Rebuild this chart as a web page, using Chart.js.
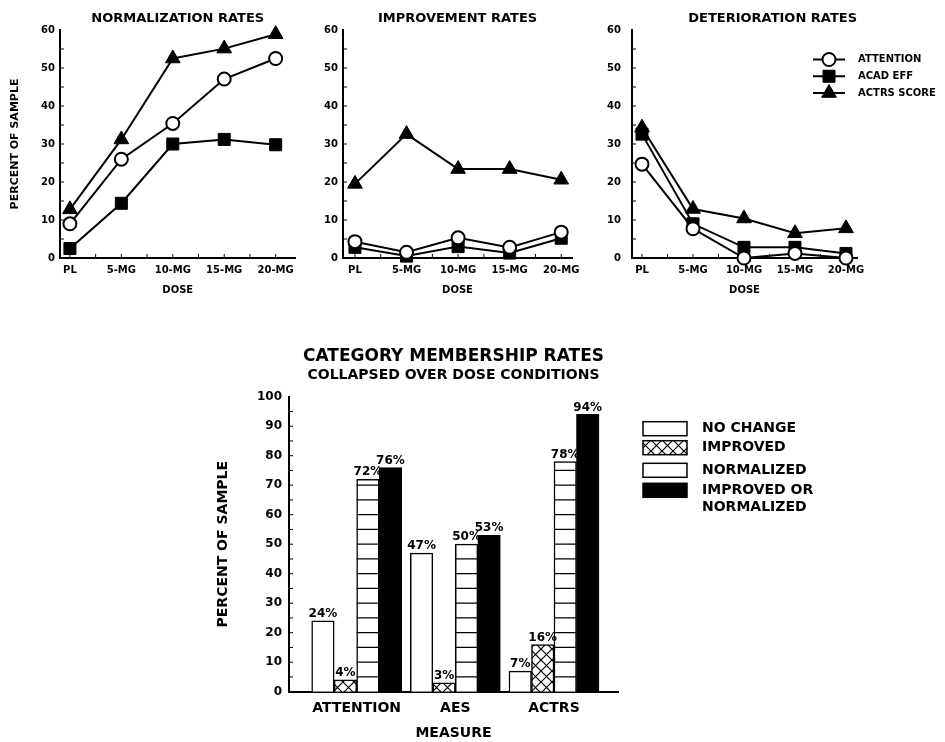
<!DOCTYPE html>
<html>
<head>
<meta charset="utf-8">
<script src="https://cdn.jsdelivr.net/npm/chart.js@4.4.0/dist/chart.umd.min.js"></script>
<style>
  body { margin: 0; background: #fff; width: 945px; height: 742px; position: relative; overflow: hidden; }
  canvas { position: absolute; }
</style>
</head>
<body>
<canvas id="normChart" width="305" height="305" style="left:0;top:0"></canvas>
<canvas id="impChart" width="276" height="305" style="left:310px;top:0"></canvas>
<canvas id="detChart" width="345" height="305" style="left:600px;top:0"></canvas>
<canvas id="catChart" width="670" height="412" style="left:200px;top:330px"></canvas>
<script>
// dose panels
const doses = ['PL', '5-MG', '10-MG', '15-MG', '20-MG'];
const seriesNames = ['ATTENTION', 'ACAD EFF', 'ACTRS SCORE'];

const normAttention = [9, 26, 35.4, 47.1, 52.5];
const normAcadEff = [2.5, 14.4, 30, 31.2, 29.8];
const normActrs = [12.8, 31.2, 52.5, 55.1, 58.9];

const impAttention = [4.3, 1.5, 5.3, 2.8, 6.8];
const impAcadEff = [2.8, 0.5, 3, 1.3, 5.2];
const impActrs = [19.5, 32.6, 23.4, 23.4, 20.6];

const detAttention = [24.7, 7.7, 0, 1.2, 0];
const detAcadEff = [32.6, 9, 2.8, 2.8, 1.2];
const detActrs = [34.3, 12.9, 10.4, 6.5, 7.8];

// category membership
const measures = ['ATTENTION', 'AES', 'ACTRS'];
const categoryNames = ['NO CHANGE', 'IMPROVED', 'NORMALIZED', ['IMPROVED OR', 'NORMALIZED']];
const noChange = [24, 47, 7];
const improved = [4, 3, 16];
const normalized = [72, 50, 78];
const improvedOrNormalized = [76, 53, 94];

Chart.defaults.font.family = "'DejaVu Sans', sans-serif";
Chart.defaults.font.weight = 'bold';
Chart.defaults.color = '#000';
Chart.defaults.animation = false;
Chart.defaults.plugins.legend.display = false;
Chart.defaults.plugins.tooltip.enabled = false;

const markerStyles = [
  { pointStyle: 'circle', pointRadius: 6.5, pointBackgroundColor: '#fff', pointBorderWidth: 2 },
  { pointStyle: 'rect', pointRadius: 8.5, pointBackgroundColor: '#000', pointBorderWidth: 1 },
  { pointStyle: 'triangle', pointRadius: 8.5, pointBackgroundColor: '#000', pointBorderWidth: 1 }
];

function steps(from, to, step) {
  const out = [];
  for (let v = from; v <= to + 1e-9; v += step) out.push(v);
  return out;
}

// small inward tick marks along both axes (under the data)
const innerTicks = {
  id: 'innerTicks',
  beforeDatasetsDraw(chart, args, opts) {
    const { ctx, scales: { x, y } } = chart;
    ctx.save();
    ctx.strokeStyle = '#000';
    ctx.lineWidth = 1;
    ctx.beginPath();
    (opts.yTicks || []).forEach(v => {
      const py = y.getPixelForValue(v);
      ctx.moveTo(x.left, py);
      ctx.lineTo(x.left + opts.len, py);
    });
    (opts.xTicks || []).forEach(v => {
      const px = x.getPixelForValue(v);
      ctx.moveTo(px, y.bottom);
      ctx.lineTo(px, y.bottom - opts.len);
    });
    ctx.stroke();
    ctx.restore();
  }
};

// line + marker key on the deterioration panel
const seriesKey = {
  id: 'seriesKey',
  afterDraw(chart) {
    const { ctx, chartArea } = chart;
    ctx.save();
    chart.data.datasets.forEach((ds, k) => {
      const y = chartArea.top + 29.5 + k * 16.75;
      ctx.strokeStyle = '#000';
      ctx.lineWidth = 2;
      ctx.beginPath();
      ctx.moveTo(chartArea.right - 44, y);
      ctx.lineTo(chartArea.right - 12, y);
      ctx.stroke();
      ctx.fillStyle = ds.pointBackgroundColor;
      ctx.lineWidth = ds.pointBorderWidth;
      Chart.helpers.drawPoint(ctx, { pointStyle: ds.pointStyle, radius: ds.pointRadius, rotation: 0, borderWidth: ds.pointBorderWidth }, chartArea.right - 28, y);
      ctx.fillStyle = '#000';
      ctx.font = "bold 10px 'DejaVu Sans'";
      ctx.textBaseline = 'middle';
      ctx.textAlign = 'left';
      ctx.fillText(ds.label, chartArea.right + 1, y);
    });
    ctx.restore();
  }
};

function doseChart(id, title, series, opt) {
  return new Chart(document.getElementById(id), {
    type: 'line',
    data: {
      datasets: series.map((vals, k) => Object.assign({
        label: seriesNames[k],
        data: vals.map((v, i) => ({ x: i, y: v })),
        borderColor: '#000',
        borderWidth: 2,
        pointBorderColor: '#000',
        tension: 0,
        clip: false
      }, markerStyles[k]))
    },
    options: {
      responsive: false,
      devicePixelRatio: 1,
      layout: { padding: { top: 0, right: opt.padRight, bottom: 0, left: 0 } },
      plugins: {
        title: {
          display: true, text: title, fullSize: false, align: opt.titleAlign,
          font: { size: 13, weight: 'bold' }, padding: { top: 11, bottom: 3.4 }
        },
        innerTicks: { yTicks: steps(5, 55, 5), xTicks: steps(0, 4, 0.5), len: 4 }
      },
      scales: {
        x: {
          type: 'linear', min: opt.xMin, max: opt.xMax, offset: false,
          grid: { display: false, drawTicks: false },
          border: { color: '#000', width: 2 },
          ticks: {
            stepSize: 1, includeBounds: false, autoSkip: false, maxRotation: 0,
            padding: 6, font: { size: 10 },
            callback: v => doses[v] ?? ''
          },
          title: { display: true, text: 'DOSE', font: { size: 10 }, padding: { top: 0, bottom: 9 } },
          afterFit: s => { s.height = 47; }
        },
        y: {
          min: 0, max: 60,
          grid: { display: false, drawTicks: false },
          border: { color: '#000', width: 2 },
          ticks: { stepSize: 10, padding: opt.yPad, font: { size: 10 } },
          title: { display: opt.yTitle, text: 'PERCENT OF SAMPLE', font: { size: 11 }, padding: { top: 8.4, bottom: 0 } },
          afterFit: s => { s.width = opt.yWidth; }
        }
      }
    },
    plugins: opt.key ? [innerTicks, seriesKey] : [innerTicks]
  });
}

doseChart('normChart', 'NORMALIZATION RATES', [normAttention, normAcadEff, normActrs],
  { xMin: -0.193, xMax: 4.386, padRight: 8, yWidth: 60, yPad: 5, yTitle: true, titleAlign: 'center' });
doseChart('impChart', 'IMPROVEMENT RATES', [impAttention, impAcadEff, impActrs],
  { xMin: -0.232, xMax: 4.21, padRight: 13, yWidth: 33, yPad: 5, yTitle: false, titleAlign: 'center' });
doseChart('detChart', 'DETERIORATION RATES', [detAttention, detAcadEff, detActrs],
  { xMin: -0.196, xMax: 4.216, padRight: 88, yWidth: 32, yPad: 11, yTitle: false, titleAlign: 'end', key: true });

// bar chart
function crossHatch() {
  const c = document.createElement('canvas');
  c.width = 11; c.height = 11;
  const g = c.getContext('2d');
  g.fillStyle = '#fff';
  g.fillRect(0, 0, 11, 11);
  g.strokeStyle = '#000';
  g.lineWidth = 1.2;
  g.beginPath();
  g.moveTo(-1, -1); g.lineTo(12, 12);
  g.moveTo(12, -1); g.lineTo(-1, 12);
  g.stroke();
  return g.createPattern(c, 'repeat');
}

const catFills = ['#fff', crossHatch(), '#fff', '#000'];

const barMarks = {
  id: 'barMarks',
  afterDatasetsDraw(chart) {
    const { ctx, scales: { y } } = chart;
    ctx.save();
    // horizontal stripes of the NORMALIZED bars, every 5 percent
    ctx.strokeStyle = '#000';
    ctx.lineWidth = 1.3;
    ctx.beginPath();
    chart.getDatasetMeta(2).data.forEach((bar, i) => {
      const half = bar.width / 2;
      for (let v = 5; v < normalized[i] - 0.5; v += 5) {
        const py = y.getPixelForValue(v);
        ctx.moveTo(bar.x - half, py);
        ctx.lineTo(bar.x + half, py);
      }
    });
    ctx.stroke();
    // value labels
    ctx.fillStyle = '#000';
    ctx.font = "bold 12px 'DejaVu Sans'";
    ctx.textAlign = 'center';
    ctx.textBaseline = 'bottom';
    chart.data.datasets.forEach((ds, k) => {
      chart.getDatasetMeta(k).data.forEach((bar, i) => {
        ctx.fillText(ds.data[i].y + '%', bar.x, bar.y - 1);
      });
    });
    ctx.restore();
  }
};

const catKey = {
  id: 'catKey',
  afterDraw(chart) {
    const { ctx, chartArea } = chart;
    const bx = chartArea.right + 25, tx = chartArea.right + 84;
    const rowTops = [25, 44, 66.6, 86.6];
    ctx.save();
    chart.data.datasets.forEach((ds, k) => {
      const top = chartArea.top + rowTops[k];
      ctx.fillStyle = ds.backgroundColor;
      ctx.fillRect(bx, top, 44, 14);
      ctx.lineWidth = 1.5;
      ctx.strokeStyle = '#000';
      ctx.strokeRect(bx, top, 44, 14);
      ctx.fillStyle = '#000';
      ctx.font = "bold 14px 'DejaVu Sans'";
      ctx.textAlign = 'left';
      ctx.textBaseline = 'middle';
      [].concat(ds.label).forEach((t, j) => ctx.fillText(t, tx, top + 7 + j * 16.7));
    });
    ctx.restore();
  }
};

new Chart(document.getElementById('catChart'), {
  type: 'bar',
  data: {
    datasets: [noChange, improved, normalized, improvedOrNormalized].map((vals, k) => ({
      label: categoryNames[k],
      data: vals.map((v, i) => ({ x: i + 1, y: v })),
      backgroundColor: catFills[k],
      borderColor: '#000',
      borderWidth: 1.5,
      barThickness: 22.5
    }))
  },
  options: {
    responsive: false,
    devicePixelRatio: 1,
    layout: { padding: { top: 0, right: 252, bottom: 0, left: 0 } },
    plugins: {
      title: {
        display: true, text: 'CATEGORY MEMBERSHIP RATES', fullSize: false,
        font: { size: 17, weight: 'bold' }, padding: { top: 16.5, bottom: 0 }
      },
      subtitle: {
        display: true, text: 'COLLAPSED OVER DOSE CONDITIONS', fullSize: false,
        font: { size: 14, weight: 'bold' }, color: '#000', padding: { top: 0, bottom: 13 }
      },
      innerTicks: { yTicks: steps(5, 95, 5), xTicks: [], len: 4 }
    },
    scales: {
      x: {
        type: 'linear', min: 0.314, max: 3.649, offset: false,
        grid: { display: false, drawTicks: false },
        border: { color: '#000', width: 2 },
        ticks: {
          stepSize: 1, includeBounds: false, autoSkip: false, maxRotation: 0,
          padding: 8, font: { size: 14 },
          callback: v => measures[v - 1] ?? ''
        },
        title: { display: true, text: 'MEASURE', font: { size: 14 }, padding: { top: 0, bottom: 0.6 } },
        afterFit: s => { s.height = 50.3; }
      },
      y: {
        min: 0, max: 100,
        grid: { display: false, drawTicks: false },
        border: { color: '#000', width: 2 },
        ticks: { stepSize: 10, padding: 7, font: { size: 12 } },
        title: { display: true, text: 'PERCENT OF SAMPLE', font: { size: 14 }, padding: { top: 14.6, bottom: 0 } },
        afterFit: s => { s.width = 89; }
      }
    }
  },
  plugins: [innerTicks, barMarks, catKey]
});
</script>
</body>
</html>
